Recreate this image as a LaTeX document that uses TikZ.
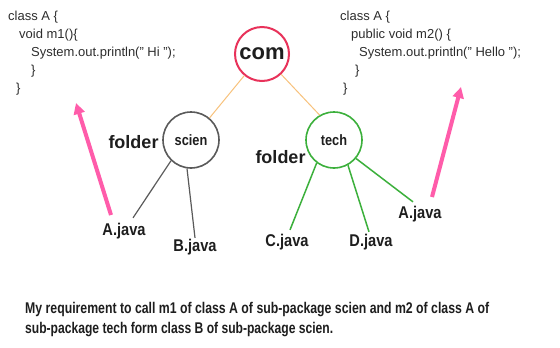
\documentclass[tikz,border=0pt]{standalone}
\usepackage{fontspec}
\usepackage{graphicx}
\setmainfont{Liberation Sans}
\usetikzlibrary{arrows.meta,calc}
\definecolor{comred}{RGB}{232,50,90}
\definecolor{orangeln}{RGB}{248,194,124}
\definecolor{greyc}{RGB}{90,90,90}
\definecolor{greenc}{RGB}{60,176,60}
\definecolor{pinkar}{RGB}{255,92,170}
\definecolor{txt}{RGB}{30,30,30}
\definecolor{codetxt}{RGB}{45,45,45}
\begin{document}
\begin{tikzpicture}[x=1bp,y=-1bp,
  codeline/.style={anchor=base west,inner sep=0pt,text=codetxt,font=\fontsize{13bp}{15bp}\selectfont},
  pkg/.style={circle,minimum size=56bp,inner sep=0pt,line width=1.6bp},
  folderlbl/.style={inner sep=1bp,text=txt,font=\fontsize{18bp}{20bp}\selectfont\bfseries},
  javalbl/.style={inner sep=1bp,text=txt,font=\fontsize{17bp}{19bp}\selectfont\bfseries},
  orangeline/.style={draw=orangeln,line width=1bp},
  greyline/.style={draw=greyc,line width=1.2bp},
  greenline/.style={draw=greenc,line width=1.5bp},
  pinkarrow/.style={draw=pinkar,line width=4bp,-{Triangle[length=11bp,width=11bp]}},
  bottomtxt/.style={anchor=west,inner sep=0pt,text=txt,font=\fontsize{15.5bp}{17bp}\selectfont\bfseries}
]
\useasboundingbox[fill=white] (0,0) rectangle (560,347);

% left code
\node[codeline] (c1) at (8,20.5) {class A \{};
\node[codeline] (c2) at (19,38) {void m1()\{};
\node[codeline] (c3) at (31,56.5) {System.out.println(" Hi ");};
\node[codeline] (c4) at (31,74.5) {\}};
\node[codeline] (c5) at (16,92) {\}};

% right code
\node[codeline] (d1) at (340,20.5) {class A \{};
\node[codeline] (d2) at (351,38) {public void m2() \{};
\node[codeline] (d3) at (359,56.5) {System.out.println(" Hello ");};
\node[codeline] (d4) at (355,74.5) {\}};
\node[codeline] (d5) at (343,92) {\}};

% package circles
\node[pkg,draw=comred,line width=2bp,minimum size=54bp,text=txt,font=\fontsize{22bp}{24bp}\selectfont\bfseries] (com) at (262,54) {com};
\node[pkg,draw=greyc,text=txt,font=\fontsize{15bp}{17bp}\selectfont\bfseries] (scien) at (191,140) {\scalebox{0.85}[1]{scien}};
\node[pkg,draw=greenc,text=txt,font=\fontsize{15bp}{17bp}\selectfont\bfseries] (tech) at (334,140) {\scalebox{0.85}[1]{tech}};

% folder labels
\node[folderlbl] (f1) at (133.5,142) {folder};
\node[folderlbl] (f2) at (280.5,157) {folder};

% java labels
\node[javalbl] (ajl) at (124,231) {\scalebox{0.86}[1]{A.java}};
\node[javalbl] (bj) at (195,247) {\scalebox{0.86}[1]{B.java}};
\node[javalbl] (cj) at (287,242) {\scalebox{0.86}[1]{C.java}};
\node[javalbl] (dj) at (371,242) {\scalebox{0.86}[1]{D.java}};
\node[javalbl] (ajr) at (420,214) {\scalebox{0.86}[1]{A.java}};

% connectors
\draw[orangeline] (com) -- (scien.50);
\draw[orangeline] (com) -- (tech.120);
\draw[greyline] (scien.226) -- ($(ajl.north)+(9,-4)$);
\draw[greyline] (scien.262) -- (bj.north);
\draw[greenline] (tech.233) -- ($(cj.north)+(3,-3)$);
\draw[greenline] (tech.299) -- ($(dj.north)+(-2,-1)$);
\draw[greenline] (tech.320) -- ($(ajr.north)+(-7,-3)$);

% pink arrows
\coordinate (pl1) at (111,215);
\coordinate (pl2) at (76,103);
\coordinate (pr1) at (432,197);
\coordinate (pr2) at (461,87);
\draw[pinkarrow] (pl1) -- (pl2);
\draw[pinkarrow] (pr1) -- (pr2);

% bottom text
\node[bottomtxt] (t1) at (25,309.5) {\resizebox{464bp}{\height}{My requirement to call m1 of class A of sub-package scien and m2 of class A of}};
\node[bottomtxt] (t2) at (25,330) {\resizebox{308bp}{\height}{sub-package tech form class B of sub-package scien.}};
\end{tikzpicture}
\end{document}
